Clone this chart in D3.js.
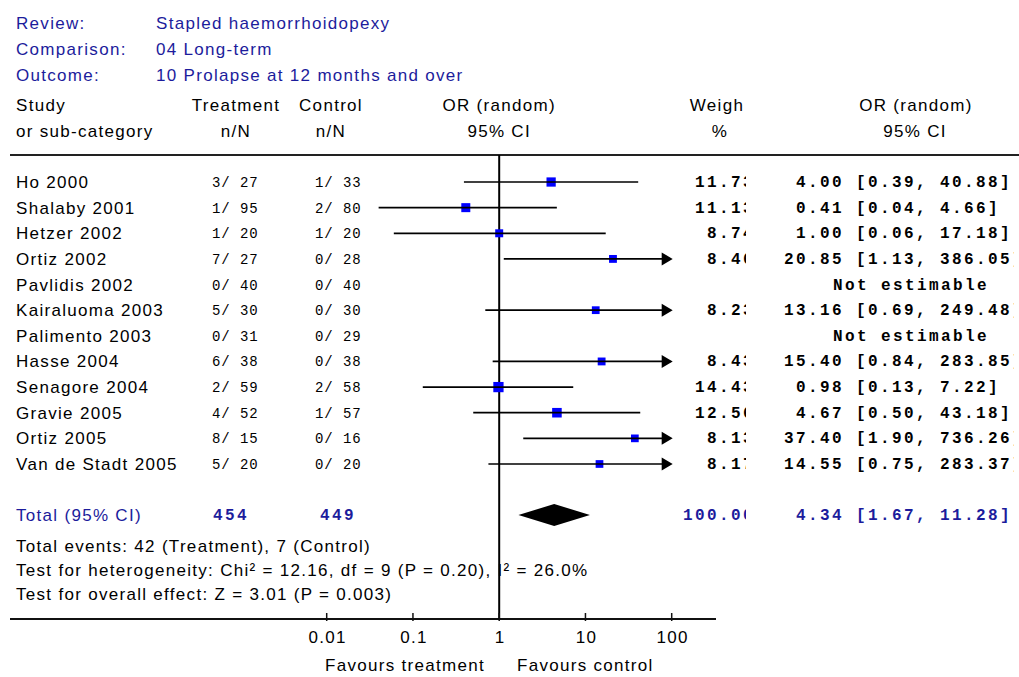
<!DOCTYPE html>
<html>
<head>
<meta charset="utf-8">
<script src="https://cdn.jsdelivr.net/npm/d3@7"></script>
<style>
  html, body { margin: 0; padding: 0; background: #ffffff; }
  svg { display: block; }
  text { white-space: pre; }
  .sans { font-family: "Liberation Sans", Arial, sans-serif; font-size: 17px; letter-spacing: 1.3px; }
  .mono { font-family: "Liberation Mono", "Courier New", monospace; font-size: 14px; letter-spacing: 0.9px; }
  .num  { font-family: "Liberation Mono", "Courier New", monospace; font-size: 16px; font-weight: bold; letter-spacing: 2.4px; }
</style>
</head>
<body>
<svg id="chart" width="1019" height="677"></svg>
<script>
// Stapled haemorrhoidopexy, 04 Long-term, 10 Prolapse at 12 months and over
const studies = ["Ho 2000", "Shalaby 2001", "Hetzer 2002", "Ortiz 2002", "Pavlidis 2002",
  "Kairaluoma 2003", "Palimento 2003", "Hasse 2004", "Senagore 2004", "Gravie 2005",
  "Ortiz 2005", "Van de Stadt 2005"];
const treatEvents = [3, 1, 1, 7, 0, 5, 0, 6, 2, 4, 8, 5];
const treatTotal  = [27, 95, 20, 27, 40, 30, 31, 38, 59, 52, 15, 20];
const ctrlEvents  = [1, 2, 1, 0, 0, 0, 0, 0, 2, 1, 0, 0];
const ctrlTotal   = [33, 80, 20, 28, 40, 30, 29, 38, 58, 57, 16, 20];
const weights     = [11.73, 11.13, 8.74, 8.46, null, 8.23, null, 8.43, 14.43, 12.56, 8.13, 8.17];
const oddsRatio   = [4.00, 0.41, 1.00, 20.85, null, 13.16, null, 15.40, 0.98, 4.67, 37.40, 14.55];
const ciLow       = [0.39, 0.04, 0.06, 1.13, null, 0.69, null, 0.84, 0.13, 0.50, 1.90, 0.75];
const ciHigh      = [40.88, 4.66, 17.18, 386.05, null, 249.48, null, 283.85, 7.22, 43.18, 736.26, 283.37];

const pooled = { or: 4.34, lo: 1.67, hi: 11.28, weight: 100.00, treatN: 454, ctrlN: 449 };
const axisTicks = [0.01, 0.1, 1, 10, 100];
const tickLabels = ["0.01", "0.1", "1", "10", "100"];

const headerInfo = [["Review:", "Stapled haemorrhoidopexy"],
                    ["Comparison:", "04 Long-term"],
                    ["Outcome:", "10 Prolapse at 12 months and over"]];
const footNotes = ["Total events: 42 (Treatment), 7 (Control)",
  "Test for heterogeneity: Chi\u00B2 = 12.16, df = 9 (P = 0.20), I\u00B2 = 26.0%",
  "Test for overall effect: Z = 3.01 (P = 0.003)"];

const navy = "#1c1c9c";
const svg = d3.select("#chart");

// log-scaled odds ratio axis
const x = d3.scaleLog().domain([0.01, 100]).range([326.7, 671.7]);
const y = d3.scaleBand().domain(d3.range(studies.length)).range([169.2, 476.8]);
const rowY = i => y(i) + y.bandwidth() / 2;
const totalY = 515;
const axisY = 619;
const ruleY = 155;

function txt(cls, xp, yp, s, opts = {}) {
  const t = svg.append("text").attr("class", cls).attr("x", xp).attr("y", yp).text(s);
  if (opts.anchor) t.attr("text-anchor", opts.anchor);
  if (opts.fill) t.attr("fill", opts.fill);
  if (opts.clip) t.attr("clip-path", opts.clip);
  return t;
}

// clip regions for the weight and CI columns
const defs = svg.append("defs");
defs.append("clipPath").attr("id", "clipW").append("rect")
  .attr("x", 600).attr("y", 0).attr("width", 146).attr("height", 677);
defs.append("clipPath").attr("id", "clipCI").append("rect")
  .attr("x", 760).attr("y", 0).attr("width", 254).attr("height", 677);

// header block
headerInfo.forEach((h, i) => {
  const yy = 29 + i * 26;
  txt("sans", 16, yy, h[0], { fill: navy });
  txt("sans", 156, yy, h[1], { fill: navy });
});
const h1 = 111, h2 = 137;
txt("sans", 16, h1, "Study");
txt("sans", 16, h2, "or sub-category");
txt("sans", 236, h1, "Treatment", { anchor: "middle" });
txt("sans", 236, h2, "n/N", { anchor: "middle" });
txt("sans", 331, h1, "Control", { anchor: "middle" });
txt("sans", 331, h2, "n/N", { anchor: "middle" });
txt("sans", x(1), h1, "OR (random)", { anchor: "middle" });
txt("sans", x(1), h2, "95% CI", { anchor: "middle" });
txt("sans", 717, h1, "Weigh", { anchor: "middle" });
txt("sans", 720, h2, "%", { anchor: "middle" });
txt("sans", 916, h1, "OR (random)", { anchor: "middle" });
txt("sans", 915, h2, "95% CI", { anchor: "middle" });

// rules
svg.append("line").attr("x1", 10).attr("x2", 1019).attr("y1", ruleY).attr("y2", ruleY)
  .attr("stroke", "#222").attr("stroke-width", 2);
svg.append("line").attr("x1", 10).attr("x2", 716).attr("y1", axisY).attr("y2", axisY)
  .attr("stroke", "#111").attr("stroke-width", 2);
svg.append("line").attr("x1", x(1)).attr("x2", x(1)).attr("y1", ruleY).attr("y2", axisY)
  .attr("stroke", "#000").attr("stroke-width", 2);

// axis ticks and labels
axisTicks.forEach((t, i) => {
  svg.append("line").attr("x1", x(t)).attr("x2", x(t)).attr("y1", axisY - 6).attr("y2", axisY + 2)
    .attr("stroke", "#111").attr("stroke-width", 1.5);
  txt("sans", x(t) + 1, axisY + 24, tickLabels[i], { anchor: "middle" });
});
txt("sans", 485, 671, "Favours treatment", { anchor: "end" });
txt("sans", 517, 671, "Favours control");

// study rows
const xMax = x(100) + 1;
studies.forEach((s, i) => {
  const cy = rowY(i);
  const base = cy + 6;
  txt("sans", 16, base, s);
  txt("mono", 212, cy + 5, `${treatEvents[i]}/${String(treatTotal[i]).padStart(3)}`);
  txt("mono", 315, cy + 5, `${ctrlEvents[i]}/${String(ctrlTotal[i]).padStart(3)}`);

  if (oddsRatio[i] == null) {
    txt("num", 833, cy + 5, "Not estimable");
    return;
  }
  const w = weights[i].toFixed(2);
  txt("num", 755 - 12 * w.length, cy + 5, w, { clip: "url(#clipW)" });
  const ci = `${oddsRatio[i].toFixed(2).padStart(5)} [${ciLow[i].toFixed(2)}, ${ciHigh[i].toFixed(2)}]`;
  txt("num", 784, cy + 5, ci, { clip: "url(#clipCI)" });

  // box sized by study weight
  const side = 2.7 * Math.sqrt(weights[i]);
  svg.append("rect").attr("x", x(oddsRatio[i]) - side / 2).attr("y", cy - side / 2)
    .attr("width", side).attr("height", side).attr("fill", "#0000ff");

  const over = ciHigh[i] > 100;
  const right = over ? xMax - 10 : x(ciHigh[i]);
  svg.append("line").attr("x1", x(ciLow[i])).attr("x2", right).attr("y1", cy).attr("y2", cy)
    .attr("stroke", "#000").attr("stroke-width", 1.7);
  if (over) {
    svg.append("path")
      .attr("d", `M${xMax - 11},${cy - 6.5}L${xMax},${cy}L${xMax - 11},${cy + 6.5}Z`)
      .attr("fill", "#000");
  }
});

// pooled estimate
txt("sans", 16, totalY + 6, "Total (95% CI)", { fill: navy });
txt("num", 213, totalY + 5, String(pooled.treatN), { fill: navy });
txt("num", 320, totalY + 5, String(pooled.ctrlN), { fill: navy });
const pw = pooled.weight.toFixed(2);
txt("num", 755 - 12 * pw.length, totalY + 5, pw, { fill: navy, clip: "url(#clipW)" });
txt("num", 784, totalY + 5,
  `${pooled.or.toFixed(2).padStart(5)} [${pooled.lo.toFixed(2)}, ${pooled.hi.toFixed(2)}]`,
  { fill: navy, clip: "url(#clipCI)" });
svg.append("path")
  .attr("d", `M${x(pooled.lo)},${totalY}L${x(pooled.or)},${totalY - 11}L${x(pooled.hi)},${totalY}L${x(pooled.or)},${totalY + 11}Z`)
  .attr("fill", "#000");

// footnotes
footNotes.forEach((f, i) => txt("sans", 16, 552 + i * 24, f));
</script>
</body>
</html>
